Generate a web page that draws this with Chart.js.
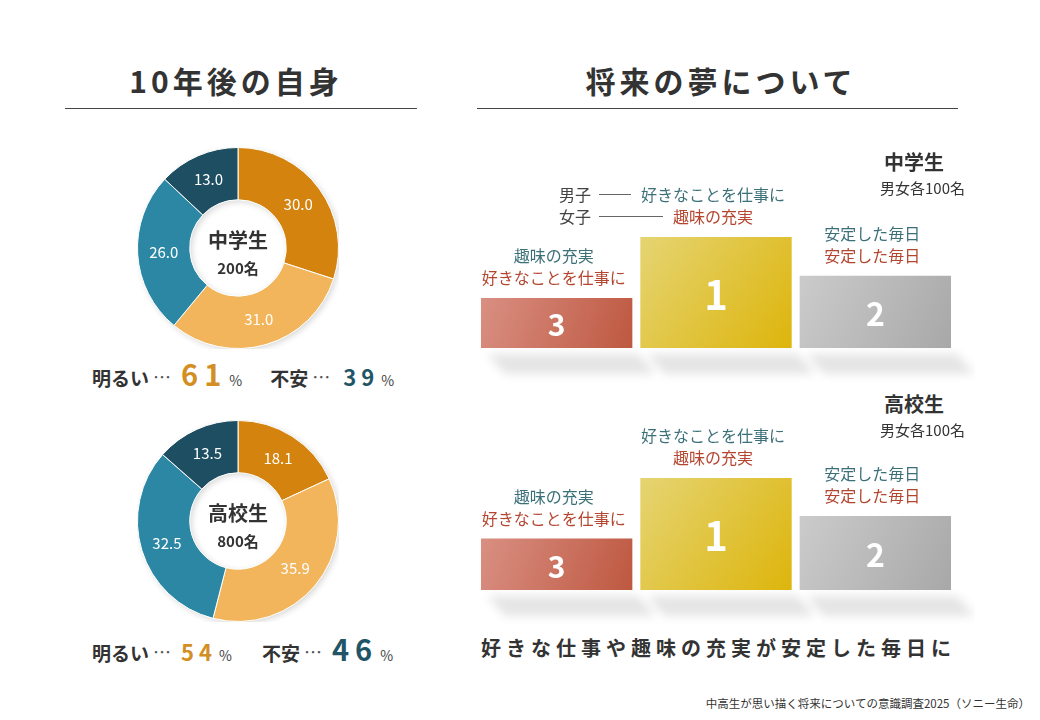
<!DOCTYPE html>
<html lang="ja">
<head>
<meta charset="UTF-8">
<title>10年後の自身 / 将来の夢について</title>
<script src="https://cdn.jsdelivr.net/npm/chart.js"></script>
<style>
  body { margin: 0; width: 1040px; height: 720px; background: #fff; position: relative; overflow: hidden;
         font-family: "Noto Sans CJK JP", "Noto Sans", sans-serif; color: #333; }
  .abs { position: absolute; white-space: nowrap; }
  .title { font-size: 30px; font-weight: bold; letter-spacing: 4px; line-height: 40px; text-align: center; color: #333; }
  .rule { height: 1px; background: #444; }
  .center1 { font-size: 20px; font-weight: bold; line-height: 26px; text-align: center; width: 200px; }
  .center2 { font-size: 15px; font-weight: bold; line-height: 20px; text-align: center; width: 200px; }
  .summary { display: flex; align-items: baseline; font-weight: bold; height: 40px; }
  .summary .lbl { font-size: 19px; }
  .summary .dots { font-size: 18px; font-weight: normal; color: #555; margin-left: 4px; position: relative; top: -2px; }
  .summary .pct { font-size: 14px; font-weight: normal; color: #444; margin-left: 2px; }
  .big { font-size: 29px; letter-spacing: 6px; margin-left: 10px; }
  .mid { font-size: 22px; letter-spacing: 5px; margin-left: 10px; }
  .orange { color: #D38F24; }
  .teal { color: #1F5566; }
  .group { font-size: 20px; font-weight: bold; line-height: 26px; }
  .count { font-size: 15px; line-height: 20px; }
  .tagline { font-size: 20px; font-weight: bold; letter-spacing: 5px; line-height: 30px; }
  .note { font-size: 11.5px; line-height: 16px; }
  canvas { position: absolute; }
</style>
</head>
<body>
  <div class="abs title" style="left:60px; top:60px; width:352px;">10年後の自身</div>
  <div class="abs rule" style="left:65px; top:108px; width:352px;"></div>
  <div class="abs title" style="left:477px; top:60px; width:488px;">将来の夢について</div>
  <div class="abs rule" style="left:477px; top:108px; width:481px;"></div>

  <canvas id="moodJunior" width="202" height="202" style="left:137px; top:147px;"></canvas>
  <div class="abs center1" style="left:138px; top:227px;">中学生</div>
  <div class="abs center2" style="left:138px; top:258px;">200名</div>
  <div class="abs summary" style="left:92px; top:352px;">
    <span class="lbl">明るい</span><span class="dots">…</span><span class="big orange" id="jrBright"></span><span class="pct">%</span>
    <span class="lbl" style="margin-left:28px;">不安</span><span class="dots">…</span><span class="mid teal" id="jrAnx" style="margin-left:13px;"></span><span class="pct">%</span>
  </div>

  <canvas id="moodSenior" width="202" height="202" style="left:137px; top:420px;"></canvas>
  <div class="abs center1" style="left:138px; top:500px;">高校生</div>
  <div class="abs center2" style="left:138px; top:531px;">800名</div>
  <div class="abs summary" style="left:92px; top:627px;">
    <span class="lbl">明るい</span><span class="dots">…</span><span class="mid orange" id="srBright"></span><span class="pct">%</span>
    <span class="lbl" style="margin-left:30px;">不安</span><span class="dots">…</span><span class="big teal" id="srAnx"></span><span class="pct">%</span>
  </div>

  <canvas id="dreamJunior" width="498" height="212" style="left:477px; top:170px;"></canvas>
  <div class="abs group" style="left:884px; top:149px;">中学生</div>
  <div class="abs count" style="left:880px; top:178px;">男女各100名</div>

  <canvas id="dreamSenior" width="498" height="204" style="left:477px; top:420px;"></canvas>
  <div class="abs group" style="left:884px; top:391px;">高校生</div>
  <div class="abs count" style="left:880px; top:420px;">男女各100名</div>

  <div class="abs tagline" style="left:481px; top:633px;">好きな仕事や趣味の充実が安定した毎日に</div>
  <div class="abs note" style="right:10px; top:695px;">中高生が思い描く将来についての意識調査2025（ソニー生命）</div>

<script>
  // 10年後の自身 (%)
  const moodCategories = ['明るい', 'どちらかといえば明るい', 'どちらかといえば不安', '不安'];
  const juniorMood = [30.0, 31.0, 26.0, 13.0];
  const seniorMood = [18.1, 35.9, 32.5, 13.5];
  const juniorSummary = [61, 39];
  const seniorSummary = [54, 46];

  // 将来の夢 — podium, left to right: 3位, 1位, 2位
  const podiumRanks = ['3', '1', '2'];
  const juniorPodium = [45, 100, 65];
  const seniorPodium = [46, 100, 66];
  const juniorBoys = ['趣味の充実', '好きなことを仕事に', '安定した毎日'];
  const juniorGirls = ['好きなことを仕事に', '趣味の充実', '安定した毎日'];
  const seniorBoys = ['趣味の充実', '好きなことを仕事に', '安定した毎日'];
  const seniorGirls = ['好きなことを仕事に', '趣味の充実', '安定した毎日'];

  const moodColors = ['#D5830F', '#F2B55B', '#2B87A3', '#1D4E62'];
  const podiumColors = [['#D98F82', '#BE5841'], ['#E5D472', '#DDB50C'], ['#CBCBCB', '#A8A8A8']];
  const boysColor = '#3C7079';
  const girlsColor = '#B4452F';
  const FONT = '"Noto Sans CJK JP", "Noto Sans", sans-serif';

  document.getElementById('jrBright').textContent = juniorSummary[0];
  document.getElementById('jrAnx').textContent = juniorSummary[1];
  document.getElementById('srBright').textContent = seniorSummary[0];
  document.getElementById('srAnx').textContent = seniorSummary[1];

  // soft shadow behind the ring + value labels on each arc
  const ringPlugin = {
    id: 'ring',
    beforeDatasetsDraw(chart) {
      const arc = chart.getDatasetMeta(0).data[0];
      if (!arc) return;
      const ctx = chart.ctx;
      ctx.save();
      ctx.shadowColor = 'rgba(0,0,0,0.16)';
      ctx.shadowBlur = 6;
      ctx.shadowOffsetX = 2;
      ctx.shadowOffsetY = 2;
      ctx.beginPath();
      ctx.arc(arc.x, arc.y, arc.outerRadius, 0, Math.PI * 2);
      ctx.arc(arc.x, arc.y, arc.innerRadius, 0, Math.PI * 2, true);
      ctx.fillStyle = '#fff';
      ctx.fill();
      ctx.restore();
    },
    afterDatasetsDraw(chart) {
      const ctx = chart.ctx;
      const values = chart.data.datasets[0].data;
      ctx.save();
      ctx.fillStyle = '#fff';
      ctx.font = '15px ' + FONT;
      ctx.textAlign = 'center';
      ctx.textBaseline = 'middle';
      chart.getDatasetMeta(0).data.forEach((arc, i) => {
        const p = arc.tooltipPosition();
        ctx.fillText(values[i].toFixed(1), p.x, p.y);
      });
      ctx.restore();
    }
  };

  function moodChart(id, values) {
    new Chart(document.getElementById(id), {
      type: 'doughnut',
      data: {
        labels: moodCategories,
        datasets: [{
          data: values,
          backgroundColor: moodColors,
          borderColor: '#fff',
          borderWidth: 1
        }]
      },
      options: {
        responsive: false,
        animation: false,
        cutout: '48%',
        layout: { padding: 0 },
        plugins: { legend: { display: false }, tooltip: { enabled: false } }
      },
      plugins: [ringPlugin]
    });
  }

  function barGradient(c) {
    const chart = c.chart;
    const area = chart.chartArea;
    if (!area) return podiumColors[c.dataIndex][1];
    const i = c.dataIndex;
    const cx = chart.scales.x.getPixelForValue(i);
    const top = chart.scales.y.getPixelForValue(c.dataset.data[i]);
    const g = chart.ctx.createLinearGradient(cx - 75, top, cx + 75, area.bottom);
    g.addColorStop(0, podiumColors[i][0]);
    g.addColorStop(1, podiumColors[i][1]);
    return g;
  }

  const rankFont = { '1': 40, '2': 32, '3': 30 };

  const podiumPlugin = {
    id: 'podium',
    beforeDatasetsDraw(chart) {
      const ctx = chart.ctx;
      chart.getDatasetMeta(0).data.forEach(bar => {
        const l = bar.x - bar.width / 2, r = bar.x + bar.width / 2, b = bar.base;
        ctx.save();
        ctx.filter = 'blur(5px)';
        ctx.fillStyle = 'rgba(0,0,0,0.10)';
        ctx.beginPath();
        ctx.moveTo(l + 6, b + 6);
        ctx.lineTo(r + 6, b + 6);
        ctx.lineTo(r + 24, b + 26);
        ctx.lineTo(l + 24, b + 26);
        ctx.closePath();
        ctx.fill();
        ctx.restore();
      });
    },
    afterDatasetsDraw(chart, args, opts) {
      const ctx = chart.ctx;
      ctx.save();
      ctx.textAlign = 'center';
      ctx.textBaseline = 'middle';
      chart.getDatasetMeta(0).data.forEach((bar, i) => {
        const rank = podiumRanks[i];
        ctx.fillStyle = '#fff';
        ctx.font = 'bold ' + rankFont[rank] + 'px ' + FONT;
        ctx.fillText(rank, bar.x, (bar.y + bar.base) / 2 + 2);

        const tx = bar.x - 3;
        ctx.font = '16px ' + FONT;
        ctx.fillStyle = boysColor;
        ctx.fillText(opts.boys[i], tx, bar.y - 42);
        ctx.fillStyle = girlsColor;
        ctx.fillText(opts.girls[i], tx, bar.y - 20);

        if (opts.legend && rank === '1') {
          const px = bar.x - 157;
          ctx.textAlign = 'left';
          ctx.fillStyle = '#444';
          ctx.fillText('男子', px, bar.y - 42);
          ctx.fillText('女子', px, bar.y - 20);
          ctx.strokeStyle = '#666';
          ctx.lineWidth = 1;
          const b1 = tx - ctx.measureText(opts.boys[i]).width / 2 - 10;
          const g1 = tx - ctx.measureText(opts.girls[i]).width / 2 - 10;
          ctx.beginPath();
          ctx.moveTo(px + 40, bar.y - 42.5); ctx.lineTo(b1, bar.y - 42.5);
          ctx.moveTo(px + 40, bar.y - 20.5); ctx.lineTo(g1, bar.y - 20.5);
          ctx.stroke();
          ctx.textAlign = 'center';
        }
      });
      ctx.restore();
    }
  };

  function dreamChart(id, heights, boys, girls, topPad, legend) {
    new Chart(document.getElementById(id), {
      type: 'bar',
      data: {
        labels: podiumRanks,
        datasets: [{
          data: heights,
          backgroundColor: barGradient,
          borderWidth: 0,
          barPercentage: 0.95,
          categoryPercentage: 1.0
        }]
      },
      options: {
        responsive: false,
        animation: false,
        layout: { padding: { top: topPad, bottom: 34, left: 0, right: 20 } },
        scales: {
          x: { display: false, grid: { display: false } },
          y: { display: false, min: 0, max: 100, grid: { display: false } }
        },
        plugins: {
          legend: { display: false },
          tooltip: { enabled: false },
          podium: { boys: boys, girls: girls, legend: legend }
        }
      },
      plugins: [podiumPlugin]
    });
  }

  moodChart('moodJunior', juniorMood);
  moodChart('moodSenior', seniorMood);
  dreamChart('dreamJunior', juniorPodium, juniorBoys, juniorGirls, 67, true);
  dreamChart('dreamSenior', seniorPodium, seniorBoys, seniorGirls, 58, false);
</script>
</body>
</html>
